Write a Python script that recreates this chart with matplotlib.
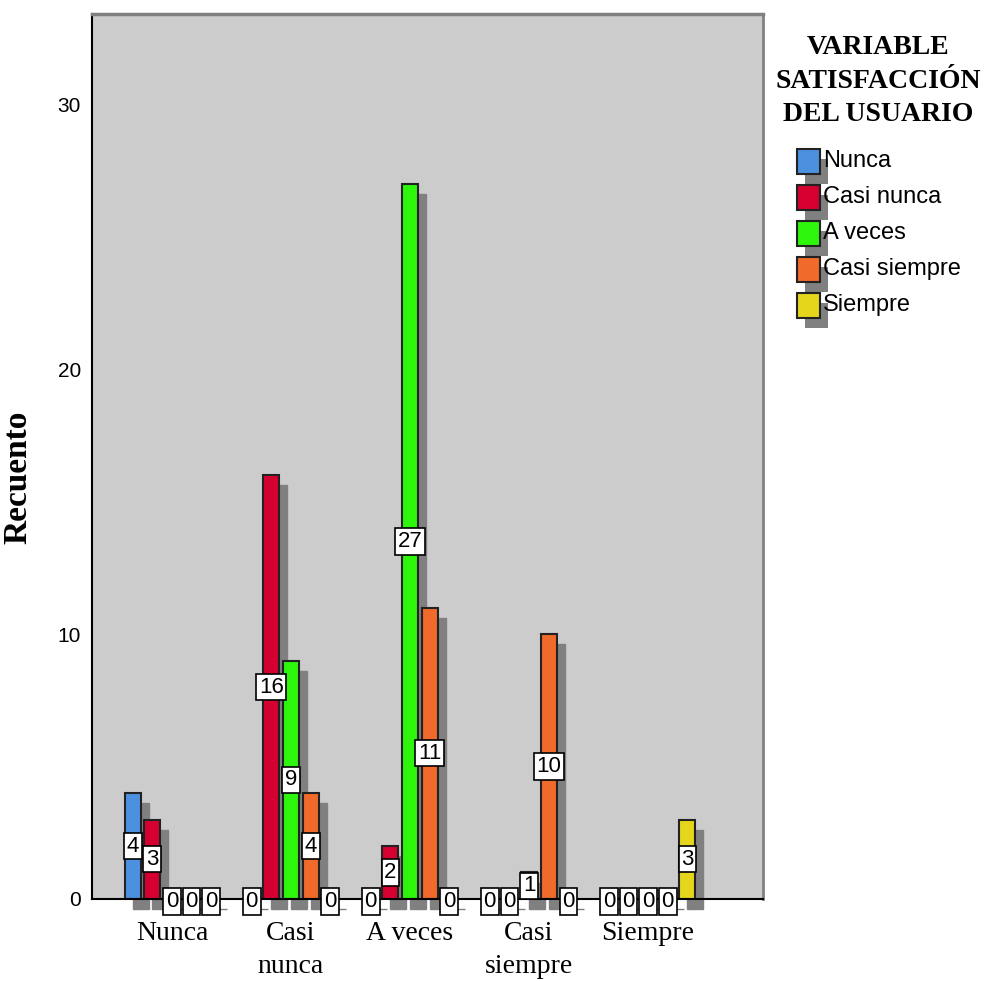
import numpy as np
import matplotlib.pyplot as plt
from matplotlib.patches import Rectangle

# x categories and legend series
categories = ["Nunca", "Casi\nnunca", "A veces", "Casi\nsiempre", "Siempre"]
series = ["Nunca", "Casi nunca", "A veces", "Casi siempre", "Siempre"]

# counts of each series within every category
nunca = [4, 0, 0, 0, 0]
casi_nunca = [3, 16, 2, 0, 0]
a_veces = [0, 9, 27, 1, 0]
casi_siempre = [0, 4, 11, 10, 0]
siempre = [0, 0, 0, 0, 3]
counts = [nunca, casi_nunca, a_veces, casi_siempre, siempre]

colors = ["#4C91E0", "#D5002F", "#2EF50C", "#EF6A2B", "#E5D61B"]
shadow = "#808080"
SANS = ["Liberation Sans", "DejaVu Sans"]
SERIF = ["Liberation Serif", "DejaVu Serif"]

fig = plt.figure(figsize=(9.84, 9.81), dpi=100)
ax = fig.add_axes([0.0935, 0.0836, 0.682, 0.902])
ax.set_facecolor("#CCCCCC")

x = np.arange(len(categories))
step, w = 0.165, 0.135
dx, dy = 0.067, 0.38

for i, (vals, c) in enumerate(zip(counts, colors)):
    pos = x + (i - 2) * step
    # drop shadow behind each bar
    ax.bar(pos + dx, vals, w, bottom=-dy, color=shadow, edgecolor=shadow,
           lw=1.0, clip_on=False, zorder=1)
    ax.bar(pos, vals, w, color=c, edgecolor="#222222", lw=1.5, zorder=2)
    for p, v in zip(pos, vals):
        ax.text(p, v / 2 if v else -0.1, str(v), ha="center", va="center", fontsize=16,
                family=SANS, zorder=5, clip_on=False,
                bbox=dict(boxstyle="square,pad=0.12", fc="white", ec="black", lw=1.2))

ax.set_xlim(-0.672, 4.966)
ax.set_ylim(0, 33.4)
ax.set_xticks(x)
ax.set_xticklabels(categories, family=SERIF, fontsize=20, linespacing=1.4)
ax.set_yticks([0, 10, 20, 30])
ax.set_yticklabels(["0", "10", "20", "30"], family=SANS, fontsize=15)
ax.tick_params(axis="x", length=0, pad=16)
ax.tick_params(axis="y", length=0, pad=8)

ax.set_ylabel("Recuento", family=SERIF, fontsize=24, fontweight="bold")
ax.yaxis.set_label_coords(-0.087, 0.476)

for side in ["left", "bottom"]:
    ax.spines[side].set_color("black")
    ax.spines[side].set_linewidth(1.5)
ax.spines["top"].set_color(shadow)
ax.spines["top"].set_linewidth(2.5)
ax.spines["right"].set_color(shadow)
ax.spines["right"].set_linewidth(2)

# legend with shadowed swatches
W, H = 984, 981
fig.text(878 / W, 1 - 35 / H, "VARIABLE\nSATISFACCIÓN\nDEL USUARIO", ha="center",
         va="top", family=SERIF, fontsize=20, fontweight="bold", linespacing=1.45)
sw, sh = 23, 25
for k, (name, c) in enumerate(zip(series, colors)):
    yc = 161 + k * 36
    fig.add_artist(Rectangle(((797 + 8) / W, 1 - (yc + sh / 2 + 10) / H), sw / W, sh / H,
                             transform=fig.transFigure, color=shadow, lw=0))
    fig.add_artist(Rectangle((797 / W, 1 - (yc + sh / 2) / H), sw / W, sh / H,
                             transform=fig.transFigure, fc=c, ec="#222222", lw=1.5))
    fig.text(823 / W, 1 - yc / H, name, ha="left", va="center", family=SANS, fontsize=17)

fig.savefig("out.png", dpi=100)
